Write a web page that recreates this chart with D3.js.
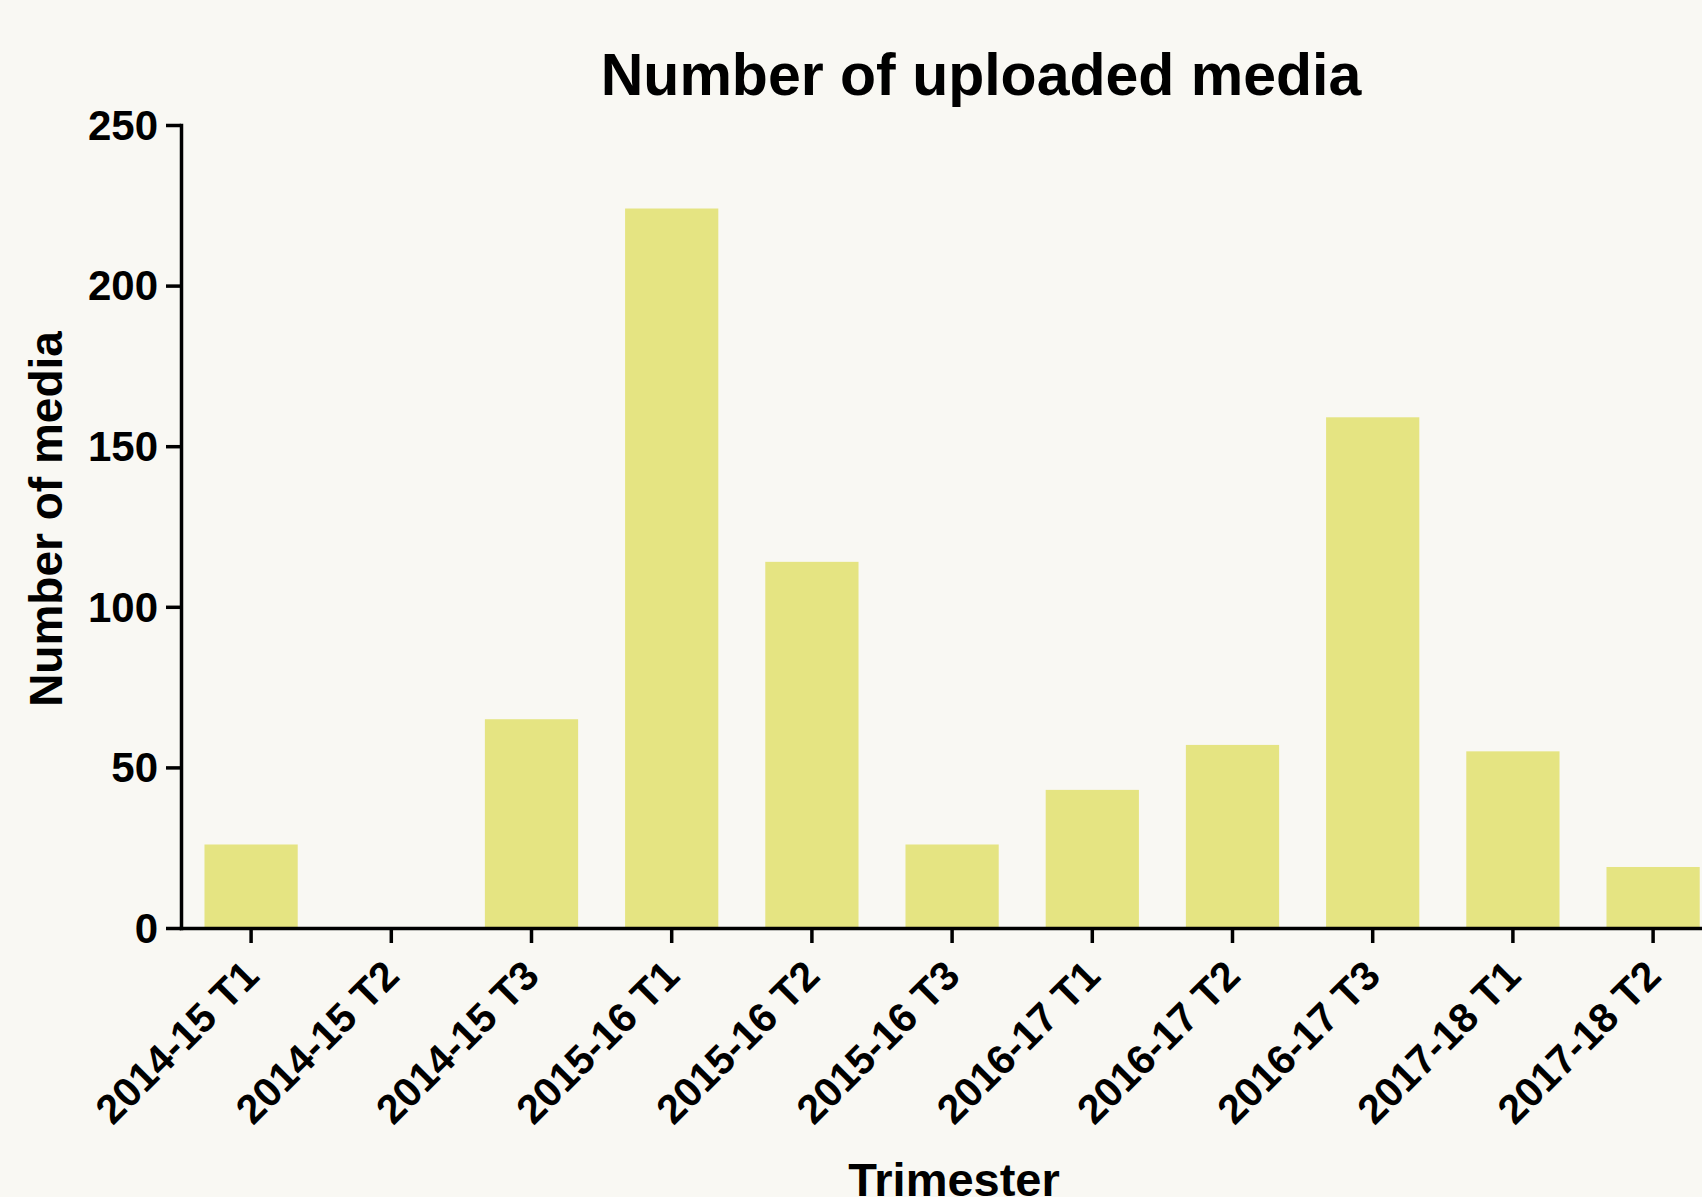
<!DOCTYPE html>
<html>
<head>
<meta charset="utf-8">
<script src="https://cdn.jsdelivr.net/npm/d3@7"></script>
<style>
  html, body { margin: 0; padding: 0; background: #f9f8f3; }
  #chart { width: 1702px; height: 1197px; overflow: hidden; }
  text { font-family: "Liberation Sans", Arial, sans-serif; font-weight: bold; fill: #000; }
</style>
</head>
<body>
<div id="chart"></div>
<script>
// data
const trimesters = ['2014-15 T1', '2014-15 T2', '2014-15 T3', '2015-16 T1', '2015-16 T2', '2015-16 T3',
                    '2016-17 T1', '2016-17 T2', '2016-17 T3', '2017-18 T1', '2017-18 T2'];
const mediaCounts = [26, 0, 65, 224, 114, 26, 43, 57, 159, 55, 19];
const yTicks = [0, 50, 100, 150, 200, 250];

const drawBars = () => {
    const width = 1702;
    const height = 1197;
    const axisX = 181;      // y axis position
    const axisY = 928;      // baseline
    const plotTop = 125;
    const stepGuess = 140.2;

    const svg = d3.select('#chart')
        .append('svg')
        .attr('width', width)
        .attr('height', height);

    svg.append('rect')
        .attr('width', width)
        .attr('height', height)
        .attr('fill', '#f9f8f3');

    // band scale runs past the right edge, the last bar gets cut like in the original
    const x = d3.scaleBand()
        .domain(trimesters)
        .range([axisX, axisX + stepGuess * trimesters.length])
        .paddingInner(0.335)
        .paddingOuter(0.1675);

    const y = d3.scaleLinear()
        .domain([0, 250])
        .range([axisY, plotTop]);

    const data = trimesters.map((t, i) => ({trimester: t, value: mediaCounts[i]}));

    svg.selectAll('rect.bar')
        .data(data)
        .enter()
        .append('rect')
        .attr('class', 'bar')
        .attr('x', d => x(d.trimester))
        .attr('y', d => y(d.value))
        .attr('width', x.bandwidth())
        .attr('height', d => y(0) - y(d.value))
        .attr('fill', '#e5e482');

    // y axis
    const yAxis = svg.append('g')
        .attr('transform', `translate(${axisX},0)`)
        .call(d3.axisLeft(y).tickValues(yTicks).tickSize(15).tickSizeOuter(0).tickPadding(8));
    yAxis.selectAll('text')
        .attr('font-size', '42px')
        .attr('dy', '0.34em');

    // x axis
    const xAxis = svg.append('g')
        .attr('transform', `translate(0,${axisY})`)
        .call(d3.axisBottom(x).tickSize(15).tickSizeOuter(0));
    xAxis.selectAll('text')
        .attr('font-size', '41px')
        .attr('x', 0)
        .attr('y', 0)
        .attr('dy', 0)
        .attr('text-anchor', 'end')
        .attr('transform', 'translate(10,50) rotate(-45)');

    svg.selectAll('.domain, .tick line')
        .attr('stroke', '#000')
        .attr('stroke-width', 3.5)
        .attr('stroke-linecap', 'square');
    svg.selectAll('.tick line').attr('stroke-linecap', 'butt');
    svg.selectAll('.tick text').attr('fill', '#000').attr('font-family', '"Liberation Sans", Arial, sans-serif');

    // title + axis titles
    svg.append('text')
        .attr('x', 981)
        .attr('y', 95)
        .attr('text-anchor', 'middle')
        .attr('font-size', '59px')
        .text('Number of uploaded media');

    svg.append('text')
        .attr('transform', 'translate(62,519) rotate(-90)')
        .attr('text-anchor', 'middle')
        .attr('font-size', '46px')
        .text('Number of media');

    svg.append('text')
        .attr('x', 954)
        .attr('y', 1196)
        .attr('text-anchor', 'middle')
        .attr('font-size', '47px')
        .text('Trimester');
};

drawBars();
</script>
</body>
</html>
